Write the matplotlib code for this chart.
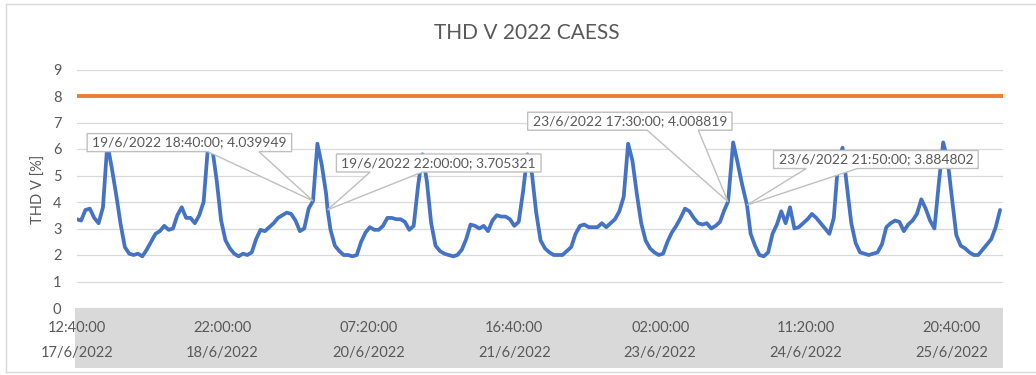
import matplotlib
matplotlib.use("Agg")
import matplotlib.pyplot as plt
import matplotlib.dates as mdates
from matplotlib.patches import Rectangle, Polygon
from matplotlib.lines import Line2D
from matplotlib.transforms import IdentityTransform
import numpy as np
import pandas as pd

plt.rcParams['font.family'] = ['Lato', 'DejaVu Sans']

# ---------------- data ----------------
title = "THD V 2022 CAESS"
y_label = "THD V [%]"

series_start = "2022-06-17 12:40:00"
# hourly THD V readings [%] from the start time
thd_values = [
    3.35, 3.3, 3.7, 3.75, 3.4, 3.2, 3.8, 6.2, 5.3, 4.3,
    3.2, 2.3, 2.05, 2.0, 2.05, 1.95, 2.2, 2.5, 2.8, 2.9,
    3.1, 2.95, 3.0, 3.5, 3.8, 3.4, 3.4, 3.2, 3.5, 4.0,
    6.1, 6.0, 4.8, 3.3, 2.55, 2.25, 2.05, 1.95, 2.05, 2.0,
    2.1, 2.6, 2.95, 2.9, 3.05, 3.2, 3.4, 3.5, 3.6, 3.55,
    3.3, 2.9, 3.0, 3.75, 4.04, 6.2, 5.4, 4.3, 2.95, 2.35,
    2.15, 2.0, 2.0, 1.95, 2.0, 2.5, 2.85, 3.05, 2.95, 2.95,
    3.1, 3.4, 3.4, 3.35, 3.35, 3.25, 2.95, 3.1, 4.6, 5.8,
    4.8, 3.2, 2.35, 2.15, 2.05, 2.0, 1.95, 2.0, 2.2, 2.6,
    3.15, 3.1, 3.0, 3.1, 2.9, 3.3, 3.5, 3.45, 3.45, 3.35,
    3.1, 3.25, 4.4, 5.8, 5.1, 3.6, 2.55, 2.25, 2.1, 2.0,
    2.0, 2.0, 2.15, 2.3, 2.8, 3.1, 3.15, 3.05, 3.05, 3.05,
    3.2, 3.05, 3.2, 3.35, 3.65, 4.2, 6.2, 5.55, 4.3, 3.2,
    2.55, 2.25, 2.1, 2.0, 2.05, 2.5, 2.85, 3.1, 3.4, 3.75,
    3.65, 3.4, 3.2, 3.15, 3.2, 3.0, 3.1, 3.25, 3.7, 4.3,
    6.25, 5.5, 4.7, 4.0, 2.8, 2.35, 2.0, 1.95, 2.1, 2.8,
    3.15, 3.65, 3.2, 3.8, 3.0, 3.05, 3.2, 3.35, 3.55, 3.4,
    3.2, 3.0, 2.8, 3.4, 5.5, 6.05, 4.6, 3.2, 2.45, 2.1,
    2.05, 2.0, 2.05, 2.1, 2.4, 3.05, 3.2, 3.3, 3.25, 2.9,
    3.15, 3.3, 3.55, 4.1, 3.75, 3.3, 3.0, 4.7, 6.25, 5.6,
    4.15, 2.75, 2.35, 2.25, 2.1, 2.0, 2.0, 2.2, 2.4, 2.6,
    3.05, 3.7,
]
limit_value = 8

ann_times = ["2022-06-19 18:40:00", "2022-06-19 22:00:00",
             "2022-06-23 17:30:00", "2022-06-23 21:50:00"]
ann_values = [4.039949, 3.705321, 4.008819, 3.884802]

tick_time_labels = ["12:40:00", "22:00:00", "07:20:00", "16:40:00",
                    "02:00:00", "11:20:00", "20:40:00"]
tick_date_labels = ["17/6/2022", "18/6/2022", "20/6/2022", "21/6/2022",
                    "23/6/2022", "24/6/2022", "25/6/2022"]
tick_interval_minutes = 2000
axis_end = "2022-06-26 08:16:00"

# ---------------- style ----------------
TEXT = "#595959"
GRID = "#d9d9d9"
BLUE = "#4472C4"
ORANGE = "#ED7D31"
W, H = 1036, 375


def fx(px):
    return px / W


def fy(py):
    return 1 - py / H


# build the series (hourly readings plus the labelled readings)
times = pd.date_range(series_start, periods=len(thd_values), freq="h")
series = pd.Series(thd_values, index=times)
labelled = pd.Series(ann_values, index=pd.to_datetime(ann_times))
series = pd.concat([series, labelled])
series = series[~series.index.duplicated(keep="last")].sort_index()
x_num = mdates.date2num(series.index.to_pydatetime())

fig = plt.figure(figsize=(W / 100, H / 100), dpi=100)

# chart frame
fig.add_artist(Line2D([fx(6), fx(6)], [fy(4), fy(372)], color=GRID, lw=1))
fig.add_artist(Line2D([fx(6), 1], [fy(4), fy(4)], color=GRID, lw=1))
fig.add_artist(Line2D([fx(6), 1], [fy(372), fy(372)], color=GRID, lw=1))

# shaded band behind the category labels
fig.add_artist(Rectangle((fx(75), fy(368)), fx(1003) - fx(75), fy(308) - fy(368),
                         facecolor=GRID, edgecolor="none", zorder=0))

ax = fig.add_axes([fx(76.7), fy(308), fx(1002.7) - fx(76.7), fy(69.5) - fy(308)])
ax.set_facecolor("none")

ax.plot(x_num, series.values, color=BLUE, lw=2.7,
        solid_joinstyle="round", solid_capstyle="round", zorder=3)
ax.axhline(limit_value, color=ORANGE, lw=2.8, zorder=2)

start = pd.Timestamp(series_start)
ax.set_xlim(mdates.date2num(start.to_pydatetime()),
            mdates.date2num(pd.Timestamp(axis_end).to_pydatetime()))
ax.set_ylim(0, 9)
ax.set_yticks(range(0, 10))
ax.grid(axis="y", color=GRID, lw=0.9)
ax.set_axisbelow(True)
for sp in ax.spines.values():
    sp.set_visible(False)

tick_pos = [mdates.date2num((start + pd.Timedelta(minutes=tick_interval_minutes * k)).to_pydatetime())
            for k in range(len(tick_time_labels))]
ax.set_xticks(tick_pos)
ax.set_xticklabels([f"{t}\n{d}" for t, d in zip(tick_time_labels, tick_date_labels)],
                   linespacing=2.05)
ax.tick_params(axis="x", length=0, pad=9, labelsize=10.5, labelcolor=TEXT)
ax.tick_params(axis="y", length=0, pad=11, labelsize=10.5, labelcolor=TEXT)

fig.text(fx(39), fy(189), y_label, rotation=90, ha="center", va="center",
         fontsize=10.5, color=TEXT)
fig.text(fx(527), fy(33), title, ha="center", va="center", fontsize=15, color=TEXT)

# data callouts: offset of the box centre (points) and wedge base fractions
callout_offsets = [(-89, 42), (80, 33.7), (-70.7, 58), (92.8, 32.8)]
wedge_fracs = [(0.59, 0.84), (0.165, 0.42), (0.585, 0.835), (0.16, 0.41)]
texts = []
for t, v, off in zip(ann_times, ann_values, callout_offsets):
    ts = pd.Timestamp(t)
    label = f"{ts.day}/{ts.month}/{ts.year} {ts:%H:%M:%S}; {v:.6f}"
    xnum = mdates.date2num(ts.to_pydatetime())
    txt = ax.annotate(label, xy=(xnum, v), xytext=off, textcoords="offset points",
                      ha="center", va="center", fontsize=10, color=TEXT,
                      zorder=7, annotation_clip=False)
    texts.append((txt, xnum, v))

fig.canvas.draw()
renderer = fig.canvas.get_renderer()
for (txt, xnum, v), fr in zip(texts, wedge_fracs):
    bb = txt.get_window_extent(renderer)
    padx, pady = 5, 3
    L, R = bb.x0 - padx, bb.x1 + padx
    B, T = bb.y0 - pady, bb.y1 + pady
    tx, ty = ax.transData.transform((xnum, v))
    xa = L + fr[0] * (R - L)
    xb = L + fr[1] * (R - L)
    poly = Polygon([(L, B), (xa, B), (tx, ty), (xb, B), (R, B), (R, T), (L, T)],
                   closed=True, facecolor="white", edgecolor="#bfbfbf", lw=1,
                   transform=IdentityTransform(), zorder=5, clip_on=False)
    ax.add_artist(poly)

fig.savefig("out.png", dpi=100)
